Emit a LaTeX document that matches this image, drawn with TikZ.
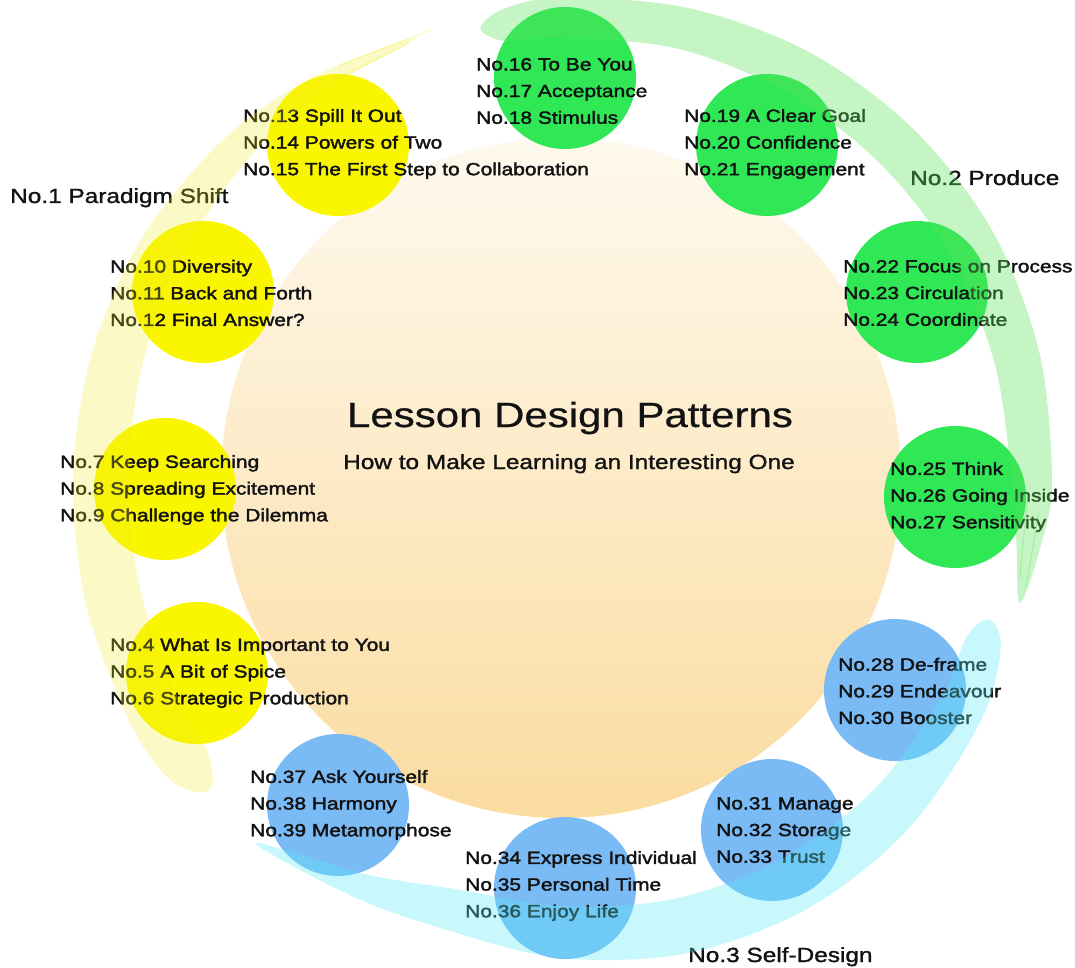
\documentclass[tikz,border=0pt]{standalone}
\usepackage{fontspec}
\setmainfont{Liberation Sans}[FakeStretch=1.2]
\newfontfamily\itemfont{Liberation Sans}[FakeStretch=1.19, FakeBold=2]
\newfontfamily\subfont{Liberation Sans}[FakeStretch=1.19, FakeBold=1.3]
\newfontfamily\titlefont{Liberation Sans}[FakeStretch=1.2, FakeBold=0.6]
\definecolor{ink}{RGB}{18,18,18}
\definecolor{sun}{RGB}{250,246,0}
\definecolor{leaf}{RGB}{48,232,86}
\definecolor{sky}{RGB}{122,186,245}
\definecolor{creamtop}{RGB}{254,249,238}
\definecolor{creambot}{RGB}{251,220,160}
\definecolor{bandyellow}{RGB}{240,236,30}
\definecolor{bandgreen}{RGB}{90,225,90}
\definecolor{bandcyan}{RGB}{90,235,245}
\begin{document}
\begin{tikzpicture}[x=1pt,y=-1pt,
  patterndot/.style={circle, minimum size=142pt, inner sep=0pt, draw=none, fill=#1},
  itemtext/.style={anchor=west, align=left, inner sep=0pt, text=ink,
    font=\itemfont\fontsize{17.6}{26.7}\selectfont},
  grouptext/.style={anchor=base west, inner sep=0pt, text=ink,
    font=\subfont\fontsize{20.5}{24}\selectfont},
  brush/.style={draw=none, fill=#1},
  hair/.style={draw=#1, line width=1.2pt, line cap=round}]
\useasboundingbox (0,0) rectangle (1075,968);

% central disc
\node[circle, minimum size=680pt, inner sep=0pt, top color=creamtop, bottom color=creambot] (core) at (561,478) {};
\node[font=\titlefont\fontsize{35}{40}\selectfont, text=ink, anchor=base] (title) at (570,427) {Lesson Design Patterns};
\node[font=\subfont\fontsize{20.5}{24}\selectfont, text=ink, anchor=base] (subtitle) at (569,469) {How to Make Learning an Interesting One};

% pattern clusters
\node[patterndot=leaf] (c16) at (565,78) {};
\node[patterndot=leaf] (c19) at (767,145) {};
\node[patterndot=leaf] (c22) at (917,292) {};
\node[patterndot=leaf] (c25) at (955,497) {};
\node[patterndot=sky] (c28) at (895,690) {};
\node[patterndot=sky] (c31) at (772,830) {};
\node[patterndot=sky] (c34) at (565,888) {};
\node[patterndot=sky] (c37) at (338,805) {};
\node[patterndot=sun] (c4) at (197,673) {};
\node[patterndot=sun] (c7) at (165,489) {};
\node[patterndot=sun] (c10) at (203,292) {};
\node[patterndot=sun] (c13) at (338,145) {};

% pattern names
\node[itemtext] (t16) at (476,91) {No.16 To Be You\\No.17 Acceptance\\No.18 Stimulus};
\node[itemtext] (t19) at (684,144) {No.19 A Clear Goal\\No.20 Confidence\\No.21 Engagement};
\node[itemtext] (t22) at (843,293) {No.22 Focus on Process\\No.23 Circulation\\No.24 Coordinate};
\node[itemtext] (t25) at (890,497) {No.25 Think\\No.26 Going Inside\\No.27 Sensitivity};
\node[itemtext] (t28) at (838,691) {No.28 De-frame\\No.29 Endeavour\\No.30 Booster};
\node[itemtext] (t31) at (716,830) {No.31 Manage\\No.32 Storage\\No.33 Trust};
\node[itemtext] (t34) at (465,886) {No.34 Express Individual\\No.35 Personal Time\\No.36 Enjoy Life};
\node[itemtext] (t37) at (250,805) {No.37 Ask Yourself\\No.38 Harmony\\No.39 Metamorphose};
\node[itemtext] (t4) at (110,673) {No.4 What Is Important to You\\No.5 A Bit of Spice\\No.6 Strategic Production};
\node[itemtext] (t7) at (60,490) {No.7 Keep Searching\\No.8 Spreading Excitement\\No.9 Challenge the Dilemma};
\node[itemtext] (t10) at (110,293) {No.10 Diversity\\No.11 Back and Forth\\No.12 Final Answer?};
\node[itemtext] (t13) at (243,144) {No.13 Spill It Out\\No.14 Powers of Two\\No.15 The First Step to Collaboration};

% category names
\node[grouptext] (g1) at (10,203) {No.1 Paradigm Shift};
\node[grouptext] (g2) at (910,185) {No.2 Produce};
\node[grouptext] (g3) at (688,962) {No.3 Self-Design};

% translucent brush strokes laid over everything
\begin{scope}[shift={(560,480)}]
  \fill[brush=bandyellow, fill opacity=0.25] plot[smooth cycle, tension=0.55] coordinates {
    (-221.5:468) (-218:491) (-210:494) (-195:490) (-180:487) (-165:485) (-150:483)
    (-135:479) (-122:473) (-108:465)
    (-122:455) (-135:447) (-150:439) (-165:433) (-180:431) (-195:434) (-210:440) (-218:446)};
  \fill[brush=bandgreen, fill opacity=0.35] plot[smooth cycle, tension=0.55] coordinates {
    (-100:458) (-97:474) (-90:482) (-75:489) (-60:495) (-45:498) (-30:499) (-15:496)
    (0:492) (8:485) (15:476)
    (8:461) (0:452) (-15:450) (-30:451) (-45:450) (-60:449) (-75:447) (-90:442) (-97:442)};
  \fill[brush=bandcyan, fill opacity=0.33] plot[smooth cycle, tension=0.55] coordinates {
    (18:452) (21:472) (30:485) (45:493) (60:495) (75:490) (90:478) (104:464) (116:465)
    (130:474)
    (116:439) (104:422) (90:426) (75:434) (60:439) (45:441) (30:439) (21:436)};
  % loose bristle marks where the strokes run out
  \draw[hair=bandgreen, draw opacity=0.3] (4:480) -- (13:478);
  \draw[hair=bandgreen, draw opacity=0.3] (2:468) -- (12:470);
  \draw[hair=bandyellow, draw opacity=0.3] (-118:470) -- (-106:468);
  \draw[hair=bandyellow, draw opacity=0.3] (-120:460) -- (-109:462);
\end{scope}
\end{tikzpicture}
\end{document}
